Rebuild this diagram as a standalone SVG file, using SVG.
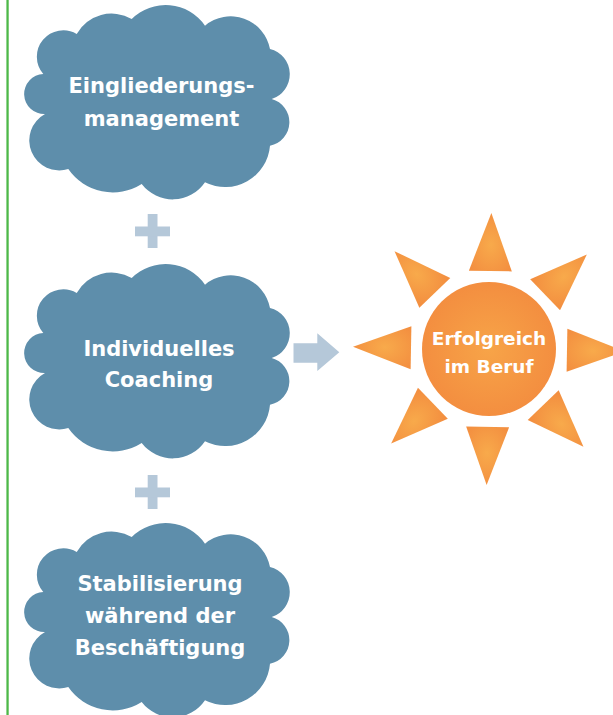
<svg xmlns="http://www.w3.org/2000/svg" width="613" height="715" viewBox="0 0 613 715">
  <defs>
    <style>
      .cloud { fill: #5e8eab; }
      .plus { fill: #b5c8d9; }
      .lbl { font-family: "DejaVu Sans", "Liberation Sans", sans-serif; font-weight: bold; font-size: 21px; fill: #ffffff; text-anchor: middle; }
      .sunlbl { font-family: "DejaVu Sans", "Liberation Sans", sans-serif; font-weight: bold; font-size: 18.5px; fill: #ffffff; text-anchor: middle; }
      .ray { fill: url(#rayGrad); }
    </style>
    <radialGradient id="rayGrad" cx="50%" cy="55%" r="60%">
      <stop offset="0" stop-color="#f8aa4b"/>
      <stop offset="1" stop-color="#f38f40"/>
    </radialGradient>
    <radialGradient id="sunGrad" cx="50%" cy="50%" r="55%">
      <stop offset="0" stop-color="#f7a448"/>
      <stop offset="1" stop-color="#f38c3f"/>
    </radialGradient>
    <path id="cloudShape" d="M131.7,278 A48,48 0 0 1 205,284.7 A40,40 0 0 1 270,308 A26,26 0 0 1 271.7,358 A24,24 0 0 1 270,404.7 A45,45 0 0 1 205,441.3 A39,39 0 0 1 141.7,443 A54,54 0 0 1 68.3,428 A30,30 0 0 1 45,373 A20,20 0 0 1 43.3,333 A26.4,26.4 0 0 1 76.7,293 A40,40 0 0 1 131.7,278 Z"/>
    <polygon id="ray" points="0,-136 21.5,-78 -21.5,-78"/>
  </defs>

  <rect x="0" y="0" width="613" height="715" fill="#ffffff"/>

  <!-- left green rule -->
  <rect x="6.4" y="0" width="2.3" height="715" fill="#4db848"/>

  <g id="connectors">
    <g id="plus1" class="plus">
      <rect x="147.7" y="214" width="9.8" height="34"/>
      <rect x="135" y="226.5" width="35" height="9.8"/>
    </g>
    <g id="plus2" class="plus">
      <rect x="147.7" y="475" width="9.8" height="34"/>
      <rect x="135" y="487.5" width="35" height="9.8"/>
    </g>
    <polygon id="arrow" class="plus" points="293.5,343.3 317.3,343.3 317.3,333.3 339.3,352.3 317.3,371 317.3,362.7 293.5,362.7"/>
  </g>

  <g id="node-eingliederung">
    <use href="#cloudShape" class="cloud" transform="translate(0,-259)"/>
    <text class="lbl" x="161.5" y="93.3">Eingliederungs-</text>
    <text class="lbl" x="161.5" y="126">management</text>
  </g>

  <g id="node-coaching">
    <use href="#cloudShape" class="cloud"/>
    <text class="lbl" x="159" y="355.7">Individuelles</text>
    <text class="lbl" x="159" y="387.3">Coaching</text>
  </g>

  <g id="node-stabilisierung">
    <use href="#cloudShape" class="cloud" transform="translate(0,259)"/>
    <text class="lbl" x="160" y="590.7">Stabilisierung</text>
    <text class="lbl" x="160" y="623">während der</text>
    <text class="lbl" x="160" y="655">Beschäftigung</text>
  </g>

  <g id="node-erfolg">
    <g transform="translate(489,349) rotate(1)">
      <use href="#ray" class="ray"/>
      <use href="#ray" class="ray" transform="rotate(45)"/>
      <use href="#ray" class="ray" transform="rotate(90)"/>
      <use href="#ray" class="ray" transform="rotate(135)"/>
      <use href="#ray" class="ray" transform="rotate(180)"/>
      <use href="#ray" class="ray" transform="rotate(225)"/>
      <use href="#ray" class="ray" transform="rotate(270)"/>
      <use href="#ray" class="ray" transform="rotate(315)"/>
    </g>
    <circle cx="489" cy="349" r="67" fill="url(#sunGrad)"/>
    <text class="sunlbl" x="489" y="345">Erfolgreich</text>
    <text class="sunlbl" x="489" y="372.7">im Beruf</text>
  </g>
</svg>
